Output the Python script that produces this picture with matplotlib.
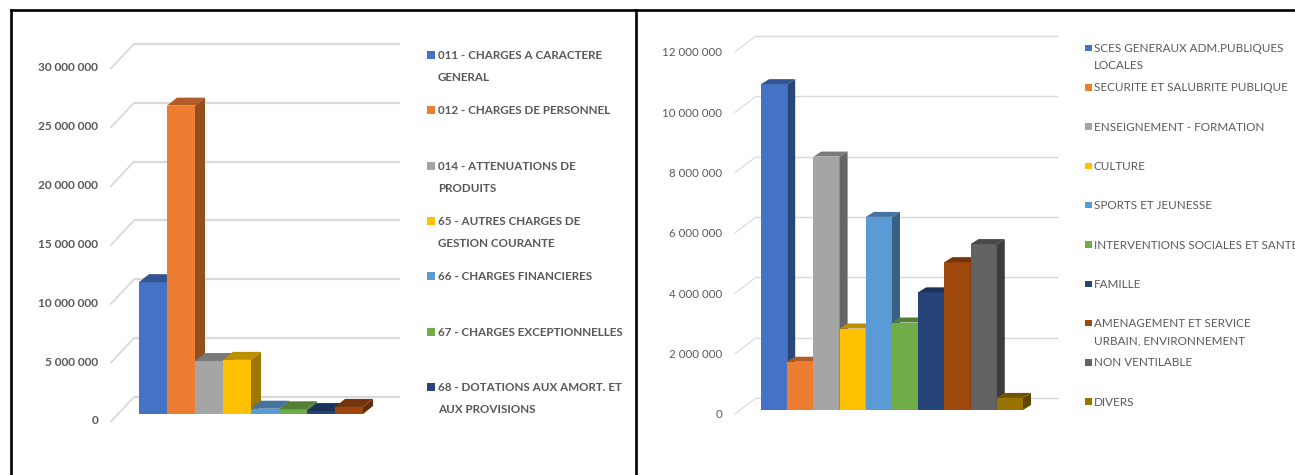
import matplotlib
matplotlib.use("Agg")
import matplotlib.pyplot as plt
from matplotlib.patches import Polygon, Rectangle
from matplotlib.colors import to_rgb

W, H = 1295, 475
DPI = 100
TEXT_GREY = "#595959"
GRID_GREY = "#d9d9d9"

# ---------------------------------------------------------------------------
# Data
# ---------------------------------------------------------------------------
# Dépenses de fonctionnement par chapitre
chap_labels = [
    "011 - CHARGES A CARACTERE\nGENERAL",
    "012 - CHARGES DE PERSONNEL",
    "014 - ATTENUATIONS DE\nPRODUITS",
    "65 - AUTRES CHARGES DE\nGESTION COURANTE",
    "66 - CHARGES FINANCIERES",
    "67 - CHARGES EXCEPTIONNELLES",
    "68 - DOTATIONS AUX AMORT. ET\nAUX PROVISIONS",
]
chap_values = [11_200_000, 26_200_000, 4_500_000, 4_600_000,
               450_000, 400_000, 250_000, 600_000]
chap_colors = ["#4472C4", "#ED7D31", "#A5A5A5", "#FFC000",
               "#5B9BD5", "#70AD47", "#264478", "#9E480E"]
chap_ticks = [0, 5_000_000, 10_000_000, 15_000_000,
              20_000_000, 25_000_000, 30_000_000]

# Dépenses par fonction
func_labels = [
    "SCES GENERAUX ADM.PUBLIQUES\nLOCALES",
    "SECURITE ET SALUBRITE PUBLIQUE",
    "ENSEIGNEMENT - FORMATION",
    "CULTURE",
    "SPORTS ET JEUNESSE",
    "INTERVENTIONS SOCIALES ET SANTE",
    "FAMILLE",
    "AMENAGEMENT ET SERVICE\nURBAIN, ENVIRONNEMENT",
    "NON VENTILABLE",
    "DIVERS",
]
func_values = [10_800_000, 1_600_000, 8_400_000, 2_700_000, 6_400_000,
               2_900_000, 3_900_000, 4_900_000, 5_500_000, 400_000]
func_colors = ["#4472C4", "#ED7D31", "#A5A5A5", "#FFC000", "#5B9BD5",
               "#70AD47", "#264478", "#9E480E", "#636363", "#997300"]
func_ticks = [0, 2_000_000, 4_000_000, 6_000_000,
              8_000_000, 10_000_000, 12_000_000]

# ---------------------------------------------------------------------------
# Layout (pixels)
# ---------------------------------------------------------------------------
LEFT_GEO = dict(rect=(20, 20, 425, 470), bar_x0=139, bar_w=28, base_y=414,
                px_per_val=11.77e-6, depth=(10, 8), wall_x=(134, 400),
                wall_dy=17, diag_x=111, diag_drop=7.5, label_x=98,
                label_drop=7, grid_lw=1.6)
RIGHT_GEO = dict(rect=(645, 20, 1065, 470), bar_x0=761, bar_w=26.2, base_y=410,
                 px_per_val=30.17e-6, depth=(8, 5), wall_x=(756, 1058),
                 wall_dy=12, diag_x=735, diag_drop=4, label_x=722,
                 label_drop=5, grid_lw=1.0)

LEFT_FONT = dict(family=["Lato", "DejaVu Sans"], weight="bold")
RIGHT_FONT = dict(family=["Lato", "DejaVu Sans"])


def shade(color, factor):
    r, g, b = to_rgb(color)
    return (r * factor, g * factor, b * factor)


def px_axes(fig, rect):
    x0, y0, x1, y1 = rect
    return fig.add_axes([x0 / W, 1 - y1 / H, (x1 - x0) / W, (y1 - y0) / H])


def draw_chart(fig, values, colors, ticks, geo, font, tick_size):
    ax = px_axes(fig, geo["rect"])
    x0, y0, x1, y1 = geo["rect"]
    bw, ppv, base = geo["bar_w"], geo["px_per_val"], geo["base_y"]
    ax.set_xlim((x0 - geo["bar_x0"]) / bw, (x1 - geo["bar_x0"]) / bw)
    ax.set_ylim((base - y1) / ppv, (base - y0) / ppv)
    ax.axis("off")

    def dx(px):
        return px / bw

    def dy(px):
        return px / ppv

    # back wall gridlines and the floor edges leading to them
    wx0, wx1 = dx(geo["wall_x"][0] - geo["bar_x0"]), dx(geo["wall_x"][1] - geo["bar_x0"])
    lx = dx(geo["diag_x"] - geo["bar_x0"])
    for v in ticks:
        vw = v + dy(geo["wall_dy"])
        ax.plot([wx0, wx1], [vw, vw], color=GRID_GREY, lw=geo["grid_lw"],
                zorder=1, solid_capstyle="butt")
        ax.plot([lx, wx0], [v - dy(geo["diag_drop"]), vw], color=GRID_GREY,
                lw=geo["grid_lw"] * 0.8, zorder=1)
        ax.text(dx(geo["label_x"] - geo["bar_x0"]), v - dy(geo["label_drop"]),
                f"{v:,}".replace(",", " "), ha="right", va="center",
                color=TEXT_GREY, fontsize=tick_size, **font)

    # pseudo-3D columns: front face, then side and top, left to right
    n = len(values)
    xs = list(range(n))
    bars = ax.bar(xs, values, width=1.0, align="edge", color=colors,
                  linewidth=0)
    ddx, ddy = dx(geo["depth"][0]), dy(geo["depth"][1])
    for i, (x, h, c) in enumerate(zip(xs, values, colors)):
        z = 3 + i
        bars[i].set_zorder(z)
        side = Polygon([(x + 1, 0), (x + 1 + ddx, ddy), (x + 1 + ddx, h + ddy),
                        (x + 1, h)], closed=True, facecolor=shade(c, 0.62),
                       edgecolor="none", zorder=z)
        top = Polygon([(x, h), (x + ddx, h + ddy), (x + 1 + ddx, h + ddy),
                       (x + 1, h)], closed=True, facecolor=shade(c, 0.74),
                      edgecolor="none", zorder=z)
        ax.add_patch(side)
        ax.add_patch(top)
    return ax


def draw_legend(frame, labels, colors, x_sq, sq, x_txt, y_first, step,
                font, size, linespacing):
    size_px = size * DPI / 72
    for i, (lab, c) in enumerate(zip(labels, colors)):
        y = y_first + i * step
        frame.add_patch(Rectangle((x_sq, y - sq / 2), sq, sq, facecolor=c,
                                  edgecolor="none"))
        frame.text(x_txt, y - 0.42 * size_px, lab, ha="left", va="top",
                   color=TEXT_GREY, fontsize=size, linespacing=linespacing,
                   **font)


fig = plt.figure(figsize=(W / DPI, H / DPI), dpi=DPI)
fig.patch.set_facecolor("white")

# pixel frame for borders and legends
frame = fig.add_axes([0, 0, 1, 1])
frame.set_xlim(0, W)
frame.set_ylim(H, 0)
frame.axis("off")
frame.plot([11, 11], [10, H], color="black", lw=1.9, solid_capstyle="projecting")
frame.plot([11, W], [10, 10], color="black", lw=1.9, solid_capstyle="projecting")
frame.plot([636, 636], [10, H], color="black", lw=1.9, solid_capstyle="projecting")

draw_chart(fig, chap_values, chap_colors, chap_ticks, LEFT_GEO, LEFT_FONT, 8.6)
draw_chart(fig, func_values, func_colors, func_ticks, RIGHT_GEO, RIGHT_FONT, 8.3)

draw_legend(frame, chap_labels, chap_colors[:len(chap_labels)], 427, 8, 438,
            55, 55.3, LEFT_FONT, 8.4, 2.2)
draw_legend(frame, func_labels, func_colors, 1085, 6.5, 1094, 48, 39.3,
            RIGHT_FONT, 8.4, 1.67)

fig.savefig("out.png", dpi=DPI, facecolor="white")
